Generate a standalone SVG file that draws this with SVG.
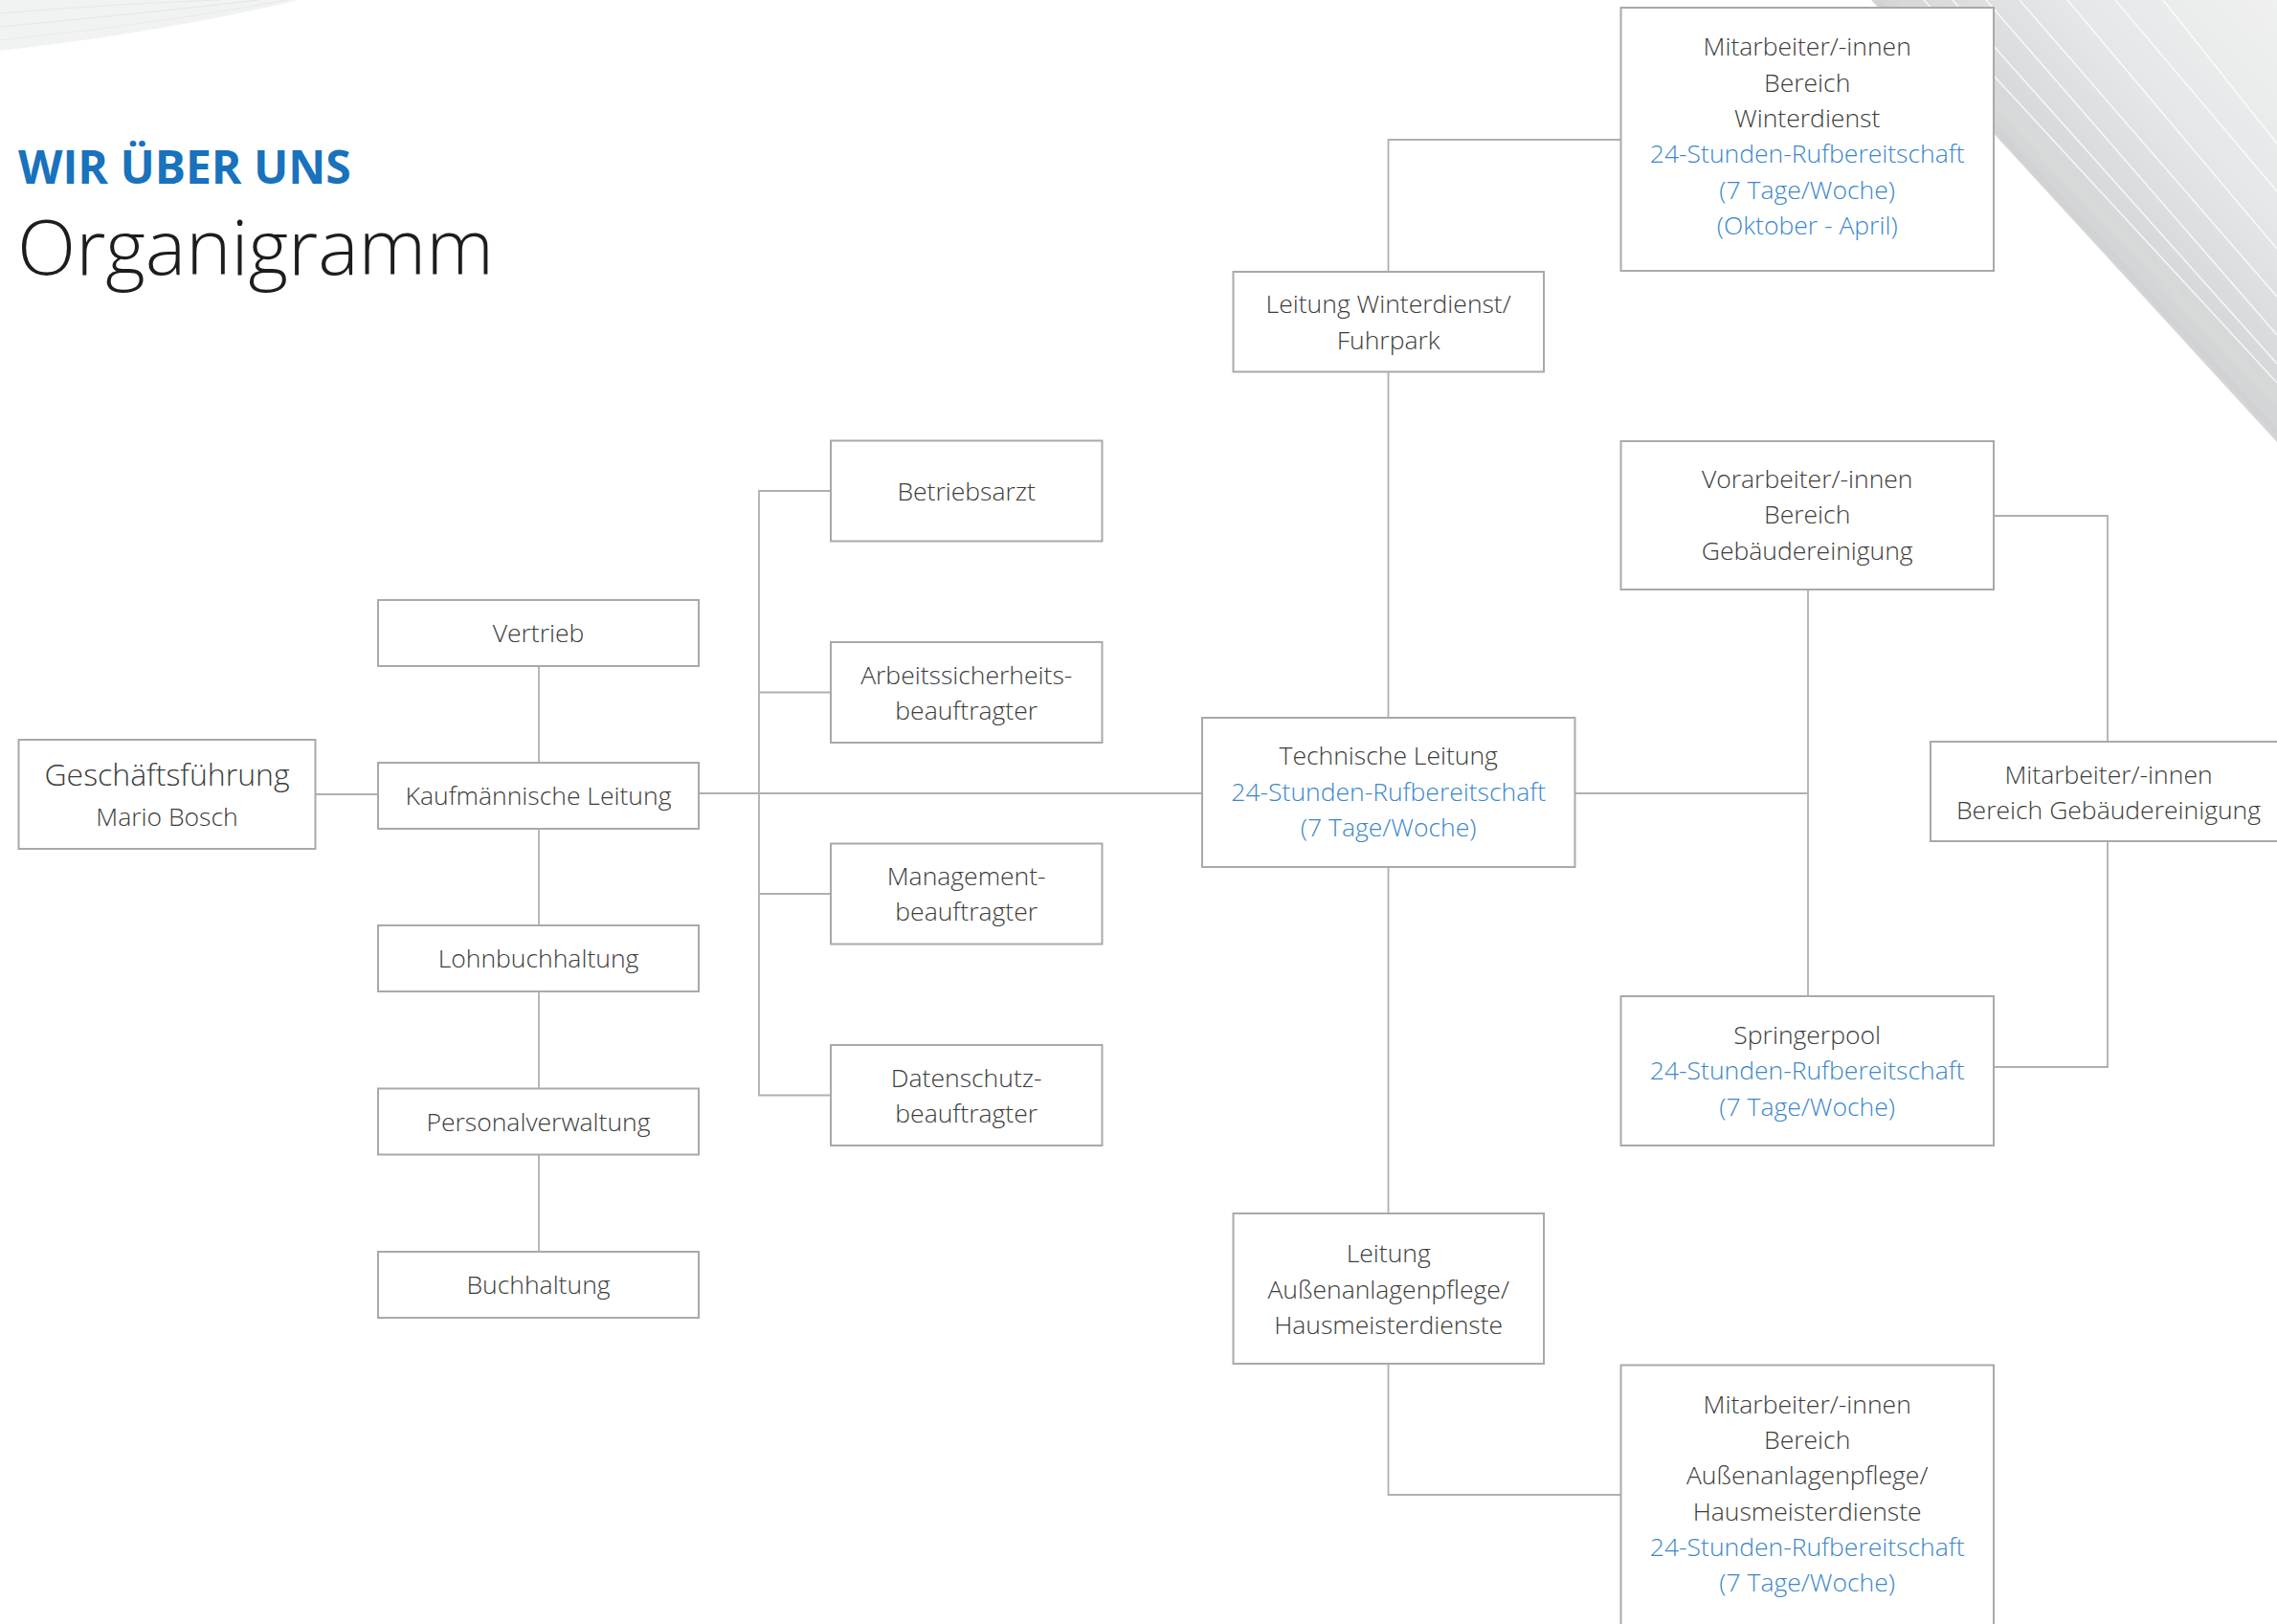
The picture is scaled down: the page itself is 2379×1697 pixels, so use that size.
<svg xmlns="http://www.w3.org/2000/svg" width="2379" height="1697" viewBox="0 0 2379 1697">
<defs>
<linearGradient id="gtr" x1="1960" y1="0" x2="2300" y2="-330" gradientUnits="userSpaceOnUse">
<stop offset="0" stop-color="#d4d5d6"/>
<stop offset="0.3" stop-color="#e6e7e8"/>
<stop offset="1" stop-color="#fafafa"/>
</linearGradient>
<style>
.box{fill:#ffffff;stroke:#a9a9a9;stroke-width:2}
.ln{fill:none;stroke:#b0b0b0;stroke-width:1.8}
.t{font-family:"Open Sans","Noto Sans","Liberation Sans",sans-serif;font-weight:300;font-size:26.5px;fill:#3c3c3b;text-anchor:middle}
.b{fill:#3a87cc}
.deco{fill:none;stroke:#ffffff;stroke-width:1.5;opacity:0.8}
</style>
</defs>
<rect x="0" y="0" width="2379" height="1697" fill="#ffffff"/>
<g id="decoration">
<path d="M0,0 L312,0 Q170,34 0,53 Z" fill="#f1f2f2"/>
<path d="M0,14 Q120,4 230,0" fill="none" stroke="#e6e7e7" stroke-width="1.2"/>
<path d="M0,28 Q150,14 270,0" fill="none" stroke="#e6e7e7" stroke-width="1.2"/>
<path d="M0,42 Q170,24 300,0" fill="none" stroke="#e8e9e9" stroke-width="1.2"/>
<path d="M1955,0 L2379,0 L2379,462 Z" fill="url(#gtr)"/>
<path d="M1960,0 L2379,452" fill="none" stroke="#cfd0d1" stroke-width="6" opacity="0.7"/>
<path d="M1985,0 L2379,420" fill="none" stroke="#d9dadb" stroke-width="10" opacity="0.6"/>
<path d="M2010,0 L2379,400" class="deco"/>
<path d="M2040,0 L2379,380" class="deco"/>
<path d="M2075,0 L2379,350" class="deco"/>
<path d="M2110,0 L2379,310" class="deco"/>
<path d="M2160,0 L2379,260" class="deco"/>
<path d="M2210,0 L2379,200" class="deco"/>
<path d="M2260,0 L2379,150" class="deco"/>
</g>
<g id="title">
<text x="19" y="192" style="font-family:'Open Sans','Noto Sans','Liberation Sans',sans-serif;font-weight:700;font-size:48px;fill:#1872bd">WIR ÜBER UNS</text>
<text x="18" y="287" style="font-family:'Open Sans','Noto Sans','Liberation Sans',sans-serif;font-weight:300;font-size:80px;fill:#1d1d1b">Organigramm</text>
</g>
<g id="connectors">
<path class="ln" d="M329,830 H395"/>
<path class="ln" d="M563,696 V797"/>
<path class="ln" d="M563,866 V967"/>
<path class="ln" d="M563,1036 V1137.5"/>
<path class="ln" d="M563,1206.5 V1308"/>
<path class="ln" d="M730,829 H1256"/>
<path class="ln" d="M868,513 H793 V1144.5 H868"/>
<path class="ln" d="M793,723.5 H868"/>
<path class="ln" d="M793,934 H868"/>
<path class="ln" d="M1450.5,284 V146 H1693.5"/>
<path class="ln" d="M1450.5,388.5 V750"/>
<path class="ln" d="M1450.5,906 V1268"/>
<path class="ln" d="M1450.5,1425 V1562 H1693.5"/>
<path class="ln" d="M1645.5,829 H1889"/>
<path class="ln" d="M1889,616 V1041"/>
<path class="ln" d="M2083,539 H2202 V775"/>
<path class="ln" d="M2202,879 V1115 H2083"/>
</g>
<g id="geschaeftsfuehrung">
<rect class="box" x="19.5" y="773" width="310" height="114"/>
<text class="t" x="174.5" y="820.5" style="font-size:32px">Geschäftsführung</text>
<text class="t" x="174.5" y="863">Mario Bosch</text>
</g>
<g id="vertrieb">
<rect class="box" x="395" y="627" width="335" height="69"/>
<text class="t" x="562.5" y="671">Vertrieb</text>
</g>
<g id="kaufmaennische-leitung">
<rect class="box" x="395" y="797" width="335" height="69"/>
<text class="t" x="562.5" y="841">Kaufmännische Leitung</text>
</g>
<g id="lohnbuchhaltung">
<rect class="box" x="395" y="967" width="335" height="69"/>
<text class="t" x="562.5" y="1011">Lohnbuchhaltung</text>
</g>
<g id="personalverwaltung">
<rect class="box" x="395" y="1137.5" width="335" height="69"/>
<text class="t" x="562.5" y="1181.5">Personalverwaltung</text>
</g>
<g id="buchhaltung">
<rect class="box" x="395" y="1308" width="335" height="69"/>
<text class="t" x="562.5" y="1352">Buchhaltung</text>
</g>
<g id="betriebsarzt">
<rect class="box" x="868" y="460.5" width="283.5" height="105"/>
<text class="t" x="1009.7" y="522.5">Betriebsarzt</text>
</g>
<g id="arbeitssicherheitsbeauftragter">
<rect class="box" x="868" y="671" width="283.5" height="105"/>
<text class="t" x="1009.7" y="714.5">Arbeitssicherheits-</text>
<text class="t" x="1009.7" y="751.8">beauftragter</text>
</g>
<g id="managementbeauftragter">
<rect class="box" x="868" y="881.5" width="283.5" height="105"/>
<text class="t" x="1009.7" y="925">Management-</text>
<text class="t" x="1009.7" y="962.3">beauftragter</text>
</g>
<g id="datenschutzbeauftragter">
<rect class="box" x="868" y="1092" width="283.5" height="105"/>
<text class="t" x="1009.7" y="1135.5">Datenschutz-</text>
<text class="t" x="1009.7" y="1172.8">beauftragter</text>
</g>
<g id="technische-leitung">
<rect class="box" x="1256" y="750" width="389.5" height="156"/>
<text class="t" x="1450.7" y="799">Technische Leitung</text>
<text class="t b" x="1450.7" y="836.5">24-Stunden-Rufbereitschaft</text>
<text class="t b" x="1450.7" y="874">(7 Tage/Woche)</text>
</g>
<g id="leitung-winterdienst">
<rect class="box" x="1288.5" y="284" width="324.5" height="104.5"/>
<text class="t" x="1450.7" y="327">Leitung Winterdienst/</text>
<text class="t" x="1450.7" y="364.5">Fuhrpark</text>
</g>
<g id="mitarbeiter-winterdienst">
<rect class="box" x="1693.5" y="8" width="389.5" height="275"/>
<text class="t" x="1888.2" y="58">Mitarbeiter/-innen</text>
<text class="t" x="1888.2" y="95.5">Bereich</text>
<text class="t" x="1888.2" y="133">Winterdienst</text>
<text class="t b" x="1888.2" y="170">24-Stunden-Rufbereitschaft</text>
<text class="t b" x="1888.2" y="207.5">(7 Tage/Woche)</text>
<text class="t b" x="1888.2" y="245">(Oktober - April)</text>
</g>
<g id="vorarbeiter-gebaeudereinigung">
<rect class="box" x="1693.5" y="461" width="389.5" height="155"/>
<text class="t" x="1888.2" y="509.5">Vorarbeiter/-innen</text>
<text class="t" x="1888.2" y="547">Bereich</text>
<text class="t" x="1888.2" y="584.5">Gebäudereinigung</text>
</g>
<g id="mitarbeiter-gebaeudereinigung">
<rect class="box" x="2017" y="775" width="400" height="104"/>
<text class="t" x="2203" y="818.5">Mitarbeiter/-innen</text>
<text class="t" x="2203" y="856">Bereich Gebäudereinigung</text>
</g>
<g id="springerpool">
<rect class="box" x="1693.5" y="1041" width="389.5" height="156"/>
<text class="t" x="1888.2" y="1090.5">Springerpool</text>
<text class="t b" x="1888.2" y="1128">24-Stunden-Rufbereitschaft</text>
<text class="t b" x="1888.2" y="1165.5">(7 Tage/Woche)</text>
</g>
<g id="leitung-aussenanlagen">
<rect class="box" x="1288.5" y="1268" width="324.5" height="157"/>
<text class="t" x="1450.7" y="1319">Leitung</text>
<text class="t" x="1450.7" y="1356.5">Außenanlagenpflege/</text>
<text class="t" x="1450.7" y="1394">Hausmeisterdienste</text>
</g>
<g id="mitarbeiter-aussenanlagen">
<rect class="box" x="1693.5" y="1426.5" width="389.5" height="300"/>
<text class="t" x="1888.2" y="1477">Mitarbeiter/-innen</text>
<text class="t" x="1888.2" y="1514">Bereich</text>
<text class="t" x="1888.2" y="1551">Außenanlagenpflege/</text>
<text class="t" x="1888.2" y="1588.5">Hausmeisterdienste</text>
<text class="t b" x="1888.2" y="1626">24-Stunden-Rufbereitschaft</text>
<text class="t b" x="1888.2" y="1663">(7 Tage/Woche)</text>
</g>
</svg>
